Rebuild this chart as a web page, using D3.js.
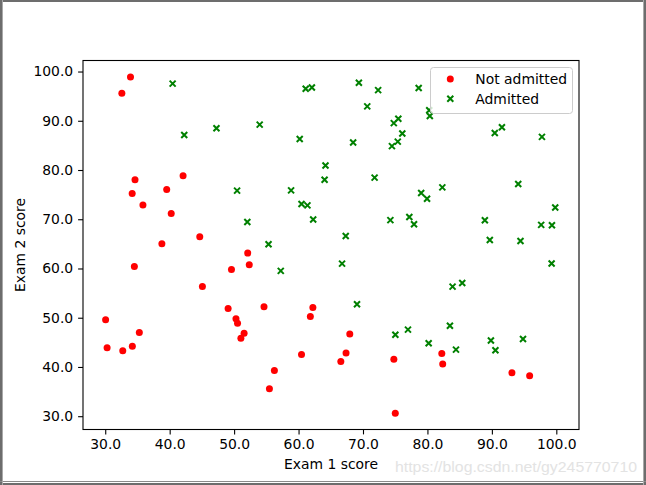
<!DOCTYPE html>
<html>
<head>
<meta charset="utf-8">
<script src="https://cdn.jsdelivr.net/npm/d3@7"></script>
<style>
html,body{margin:0;padding:0;background:#fff;}
svg{display:block;}
</style>
</head>
<body>
<div id="chart"></div>
<script>
// Exam scores (ex2data1)
const exam1 = [34.62,30.29,35.85,60.18,79.03,45.08,61.11,75.02,76.10,84.43,95.86,75.01,82.31,69.36,39.54,53.97,69.07,67.95,70.66,76.98,67.37,89.68,50.53,34.21,77.92,62.27,80.19,93.11,61.83,38.79,61.38,85.40,52.11,52.05,40.24,54.64,33.92,64.18,74.79,34.18,83.90,51.55,94.44,82.37,51.05,62.22,77.19,97.77,62.07,91.56,79.94,99.27,90.55,34.52,50.29,49.59,97.65,32.58,74.25,71.80,75.40,35.29,56.25,30.06,44.67,66.56,40.46,49.07,80.28,66.75,32.72,64.04,72.35,60.46,58.84,99.83,47.26,50.46,60.46,82.23,88.91,94.83,67.32,57.24,80.37,68.47,42.08,75.48,78.64,52.35,94.09,90.45,55.48,74.49,89.85,83.49,42.26,99.32,55.34,74.78];
const exam2 = [78.02,43.89,72.90,86.31,75.34,56.32,96.51,46.55,87.42,43.53,38.23,30.60,76.48,97.72,76.04,89.21,52.74,46.68,92.93,47.58,42.84,65.80,48.86,44.21,68.97,69.95,44.82,38.80,50.26,65.00,72.81,57.05,63.13,69.43,71.17,52.21,98.87,80.91,41.57,75.24,56.31,46.86,65.57,40.62,45.82,52.06,70.46,86.73,96.77,88.70,74.16,61.00,43.39,60.40,49.80,59.81,68.86,95.60,69.82,78.45,85.76,47.02,39.26,49.59,66.45,41.09,97.54,51.88,92.12,60.99,43.31,78.03,96.23,73.09,75.86,72.37,88.48,75.81,42.51,42.72,69.80,45.69,66.59,59.51,90.96,85.59,78.84,90.42,96.65,60.77,77.16,87.51,35.57,84.85,45.36,48.38,87.10,68.78,64.93,89.53];
const admitted = [0,0,0,1,1,0,1,1,1,1,0,0,1,1,0,1,1,0,1,1,0,1,0,0,1,1,1,0,0,0,1,1,0,1,0,0,0,1,0,0,1,0,1,0,0,0,1,1,1,1,1,1,1,0,0,0,1,0,1,1,1,0,0,0,0,0,1,0,1,1,0,1,1,1,1,1,1,1,0,0,1,1,1,1,1,1,0,1,1,0,1,1,0,1,1,1,1,1,1,1];
const xTicks = [30,40,50,60,70,80,90,100];
const yTicks = [30,40,50,60,70,80,90,100];
const legendLabels = ["Not admitted","Admitted"];
const xLabel = "Exam 1 score";
const yLabel = "Exam 2 score";
const watermark = "https://blog.csdn.net/gy245770710";

const W = 646, H = 485;
const L = 83, R = 579, T = 60.5, B = 429.5;
const FONT = "'DejaVu Sans', sans-serif";
const FS = 13.9;

const svg = d3.select("#chart").append("svg").attr("width", W).attr("height", H);
svg.append("rect").attr("width", W).attr("height", H).attr("fill", "#fff");

// window border
svg.append("rect").attr("x",1).attr("y",1).attr("width",W-2).attr("height",H-2)
  .attr("fill","none").attr("stroke","#6d6d6d").attr("stroke-width",2);
svg.append("line").attr("x1",0).attr("x2",W).attr("y1",481.5).attr("y2",481.5)
  .attr("stroke","#8a8a8a").attr("stroke-width",1);
svg.append("line").attr("x1",2.5).attr("x2",2.5).attr("y1",0).attr("y2",H)
  .attr("stroke","#a9a9a9").attr("stroke-width",1);
svg.append("line").attr("x1",643.5).attr("x2",643.5).attr("y1",0).attr("y2",H)
  .attr("stroke","#a9a9a9").attr("stroke-width",1);

const x = d3.scaleLinear().domain([26.55, 103.52]).range([L, R]);
const y = d3.scaleLinear().domain([27.3, 102.24]).range([B, T]);

const data = exam1.map((v,i)=>({x:v, y:exam2[i], a:admitted[i]}));

// axes
const fmt = d3.format(".1f");
const xAxis = svg.append("g").attr("transform",`translate(0,${B})`)
  .call(d3.axisBottom(x).tickValues(xTicks).tickFormat(fmt).tickSize(4.9).tickPadding(4.9));
const yAxis = svg.append("g").attr("transform",`translate(${L},0)`)
  .call(d3.axisLeft(y).tickValues(yTicks).tickFormat(fmt).tickSize(4.9).tickPadding(4.9));
[xAxis,yAxis].forEach(g=>{
  g.select(".domain").remove();
  g.selectAll(".tick line").attr("stroke","#000").attr("stroke-width",1.1);
  g.selectAll(".tick text").attr("fill","#000").style("font-family",FONT).style("font-size",FS+"px");
});

// markers
const pts = svg.append("g");
pts.selectAll("circle").data(data.filter(d=>d.a===0)).join("circle")
  .attr("cx",d=>x(d.x)).attr("cy",d=>y(d.y)).attr("r",3.5).attr("fill","#ff0000");
const xs = 3.0;
const crossPath = `M${-xs},${-xs}L${xs},${xs}M${-xs},${xs}L${xs},${-xs}`;
pts.selectAll("path").data(data.filter(d=>d.a===1)).join("path")
  .attr("transform",d=>`translate(${x(d.x)},${y(d.y)})`)
  .attr("d",crossPath).attr("stroke","#008000").attr("stroke-width",2).attr("fill","none");

// frame
svg.append("rect").attr("x",L).attr("y",T).attr("width",R-L).attr("height",B-T)
  .attr("fill","none").attr("stroke","#000").attr("stroke-width",1.1);

// legend
const lg = svg.append("g");
lg.append("rect").attr("x",430.5).attr("y",67.5).attr("width",142).attr("height",46).attr("rx",3)
  .attr("fill","#fff").attr("fill-opacity",0.8).attr("stroke","#cccccc").attr("stroke-width",1);
lg.append("circle").attr("cx",450.3).attr("cy",79).attr("r",3.5).attr("fill","#ff0000");
lg.append("path").attr("transform","translate(450.3,98.7)").attr("d",crossPath)
  .attr("stroke","#008000").attr("stroke-width",2).attr("fill","none");
lg.selectAll("text").data(legendLabels).join("text")
  .attr("x",475.3).attr("y",(d,i)=>84+i*19.7).text(d=>d)
  .style("font-family",FONT).style("font-size",FS+"px").attr("fill","#000");

// axis labels
svg.append("text").attr("x",(L+R)/2).attr("y",469).attr("text-anchor","middle")
  .text(xLabel).style("font-family",FONT).style("font-size",FS+"px");
svg.append("text").attr("transform",`translate(25,${(T+B)/2}) rotate(-90)`).attr("text-anchor","middle")
  .text(yLabel).style("font-family",FONT).style("font-size",FS+"px");

// watermark
svg.append("text").attr("x",395).attr("y",471.5).attr("textLength",242).attr("lengthAdjust","spacingAndGlyphs")
  .text(watermark).style("font-family","'Liberation Sans', Arial, sans-serif").style("font-size","15px")
  .attr("fill","#e3e3e3");
</script>
</body>
</html>
